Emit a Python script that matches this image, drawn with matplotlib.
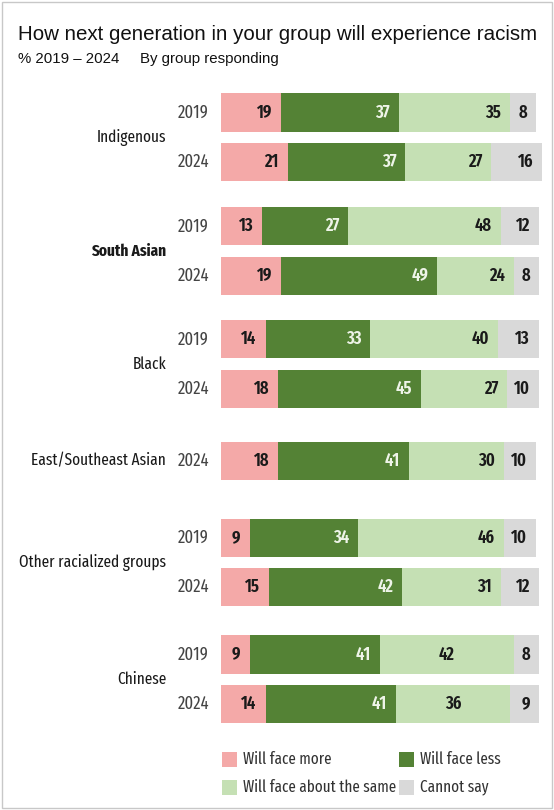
import matplotlib
matplotlib.use("Agg")
import matplotlib.pyplot as plt
from matplotlib import font_manager
from matplotlib.patches import Rectangle

# Survey shares (%) per group and survey year
groups = ["Indigenous", "South Asian", "Black", "East/Southeast Asian",
          "Other racialized groups", "Chinese"]
years = [["2019", "2024"], ["2019", "2024"], ["2019", "2024"], ["2024"],
         ["2019", "2024"], ["2019", "2024"]]
face_more = [[19, 21], [13, 19], [14, 18], [18], [9, 15], [9, 14]]
face_less = [[37, 37], [27, 49], [33, 45], [41], [34, 42], [41, 41]]
about_same = [[35, 27], [48, 24], [40, 27], [30], [46, 31], [42, 36]]
cannot_say = [[8, 16], [12, 8], [13, 10], [10], [10, 12], [8, 9]]

categories = ["Will face more", "Will face less", "Will face about the same", "Cannot say"]
colors = ["#f4a9a8", "#548235", "#c5e0b4", "#d9d9d9"]
text_colors = ["#1a1a1a", "#eef4e8", "#1a1a1a", "#1a1a1a"]

W, H = 554, 810
installed = {f.name for f in font_manager.fontManager.ttflist}
NARROW = next((f for f in ["Fira Sans Extra Condensed", "Fira Sans Condensed",
                           "PT Sans Narrow", "Liberation Sans"] if f in installed),
              "DejaVu Sans")
TITLE_FONT = "Liberation Sans"


def fig_xy(x, y):
    """pixel position (from top-left) -> figure fraction"""
    return x / W, 1 - y / H


fig = plt.figure(figsize=(W / 100, H / 100), dpi=100)
fig.patch.set_facecolor("white")

# bars area: 0..100 % spans 318 px starting at x=221
ax_top, ax_bot = 80, 735
ax = fig.add_axes([221 / W, 1 - ax_bot / H, 318 / W, (ax_bot - ax_top) / H])
ax.set_axis_off()

# vertical slots: one unit per bar, wider gaps between groups
group_gap = [0, 1.3, 1.28, 1.46, 1.55, 1.36]
row_pos = []
y = 0.0
for gi, yrs in enumerate(groups):
    y += group_gap[gi] if gi else 0
    rows = []
    for k in range(len(years[gi])):
        if k:
            y += 1
        rows.append(y)
    row_pos.append(rows)

unit = 49.5  # px per slot
ax.set_xlim(0, 100)
top = -(112.5 - ax_top) / unit
ax.set_ylim(top + (ax_bot - ax_top) / unit, top)

series = [face_more, face_less, about_same, cannot_say]
for gi, group in enumerate(groups):
    for k, yr in enumerate(years[gi]):
        yy = row_pos[gi][k]
        left = 0
        for si, s in enumerate(series):
            v = s[gi][k]
            # rows that add up to 101 run slightly past 100
            ax.barh(yy, v, left=left, height=0.77, color=colors[si],
                    edgecolor="none", clip_on=False)
            if group == "Chinese" and si == 2:
                ax.text(left + v / 2, yy, str(v), ha="center", va="center",
                        fontsize=13, fontweight="semibold", family=NARROW,
                        color=text_colors[si], clip_on=False)
            else:
                ax.annotate(str(v), xy=(left + v, yy), xytext=(-9, 0),
                            textcoords="offset pixels", ha="right", va="center",
                            fontsize=13, fontweight="semibold", family=NARROW,
                            color=text_colors[si], annotation_clip=False)
            left += v
        ax.annotate(yr, xy=(0, yy), xytext=(-12, 0), textcoords="offset pixels",
                    ha="right", va="center", fontsize=13, family=NARROW,
                    color="#444444", annotation_clip=False)
    mid = sum(row_pos[gi]) / len(row_pos[gi])
    ax.annotate(group, xy=(0, mid), xytext=(-55, 0), textcoords="offset pixels",
                ha="right", va="center", fontsize=12, family=NARROW, color="#1a1a1a",
                fontweight="bold" if group == "South Asian" else "normal",
                annotation_clip=False)

# title block
fig.text(*fig_xy(18, 40), "How next generation in your group will experience racism",
         fontsize=14.8, family=TITLE_FONT, va="baseline", color="#111111")
fig.text(*fig_xy(18, 63), "% 2019 \u2013 2024", fontsize=10.8, family=TITLE_FONT,
         va="baseline", color="#111111")
fig.text(*fig_xy(140, 63), "By group responding", fontsize=10.8, family=TITLE_FONT,
         va="baseline", color="#111111")

# legend, two columns
leg_cols = [222, 399]
leg_rows = [759, 787]
order = [(0, 0), (1, 0), (0, 1), (1, 1)]
for (col, row), name, c in zip(order, categories, colors):
    x0, yc = leg_cols[col], leg_rows[row]
    fx, fy = fig_xy(x0, yc + 7.5)
    fig.add_artist(Rectangle((fx, fy), 15 / W, 15 / H, transform=fig.transFigure,
                             facecolor=c, edgecolor="none"))
    fig.text(*fig_xy(x0 + 21, yc), name, fontsize=11.8, family=NARROW,
             va="center", ha="left", color="#333333")

# light frame round the whole graphic
fig.add_artist(Rectangle((2 / W, 2 / H), (W - 4) / W, (H - 4) / H,
                         transform=fig.transFigure, fill=False,
                         edgecolor="#c8c8c8", linewidth=1))

fig.savefig("out.png", dpi=100)
